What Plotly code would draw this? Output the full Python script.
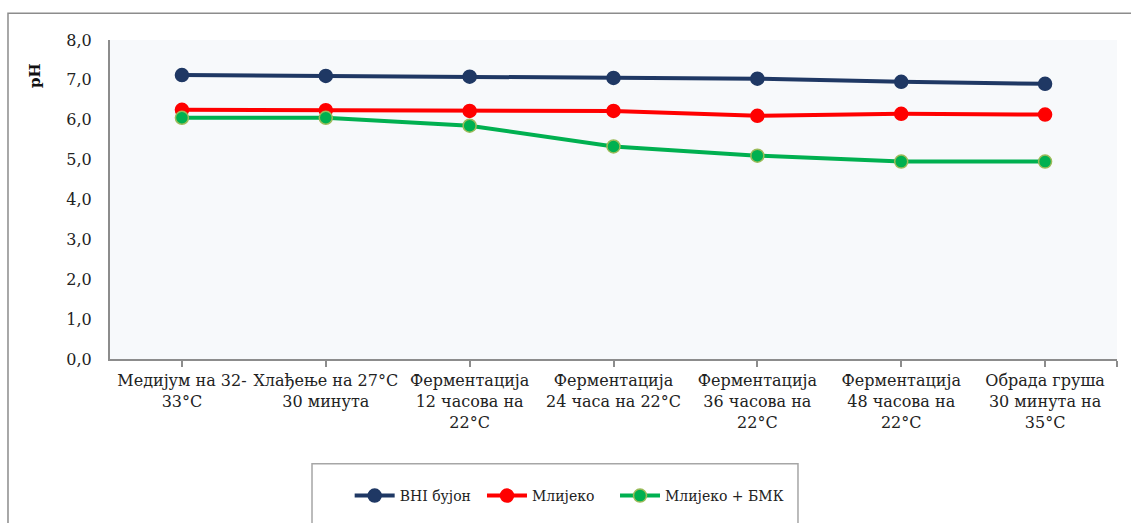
import plotly.graph_objects as go

# x categories (production stages)
stages = [
    "Медијум на 32-<br>33°C",
    "Хлађење на 27°C<br>30 минута",
    "Ферментација<br>12 часова на<br>22°C",
    "Ферментација<br>24 часа на 22°C",
    "Ферментација<br>36 часова на<br>22°C",
    "Ферментација<br>48 часова на<br>22°C",
    "Обрада груша<br>30 минута на<br>35°C",
]

ph_bhi = [7.12, 7.10, 7.08, 7.05, 7.03, 6.95, 6.90]
ph_milk = [6.25, 6.24, 6.22, 6.22, 6.10, 6.15, 6.13]
ph_milk_lab = [6.05, 6.05, 5.85, 5.33, 5.10, 4.95, 4.95]

y_ticks = [0, 1, 2, 3, 4, 5, 6, 7, 8]

FONT = "DejaVu Serif"

fig = go.Figure()

# one legend per series so each entry sits where the original has it
series = [
    ("BHI бујон", ph_bhi, "#1F3864", "#1F3864", "legend", 0.238),
    ("Млијеко", ph_milk, "#FF0000", "#FF0000", "legend2", 0.3694),
    ("Млијеко + БМК", ph_milk_lab, "#00B050", "#9BBB59", "legend3", 0.5015),
]
legends = {}
for name, vals, col, edge, leg, lx in series:
    fig.add_trace(go.Scatter(
        x=stages, y=vals, name=name, mode="lines+markers",
        line=dict(color=col, width=4),
        marker=dict(color=col, size=13, line=dict(color=edge, width=1.5)),
        legend=leg,
    ))
    legends[leg] = dict(
        orientation="h", x=lx, xanchor="left", y=-0.425, yanchor="middle",
        bgcolor="rgba(0,0,0,0)", borderwidth=0,
        font=dict(family=FONT, size=14, color="#222222"),
        itemwidth=40,
    )

fig.update_layout(
    width=1131, height=523,
    margin=dict(l=110, r=14, t=40, b=163),
    paper_bgcolor="white",
    plot_bgcolor="#F7F9FB",
    font=dict(family=FONT, size=16, color="#222222"),
    separators=",.",
    showlegend=True,
    **legends,
)

fig.update_xaxes(
    type="category",
    tickvals=[0, 1, 2, 3, 4, 5, 6, 6.5],
    ticktext=stages + [""],
    range=[-0.5, 6.5],
    showline=True, linecolor="#8C8C8C", linewidth=2,
    ticks="outside", ticklen=6, tickcolor="#8C8C8C", tickwidth=2,
    showgrid=False, zeroline=False,
    tickangle=0,
    tickfont=dict(family=FONT, size=16, color="#222222"),
)
fig.update_yaxes(
    range=[0, 8], tickvals=y_ticks, tickformat=".1f",
    showline=True, linecolor="#8C8C8C", linewidth=2,
    ticks="", showgrid=False, zeroline=False,
    ticklabelstandoff=13,
    tickfont=dict(family=FONT, size=16, color="#222222"),
)

# axis title "pH"
fig.add_annotation(
    text="<b>pH</b>", xref="paper", yref="paper",
    x=-0.0745, y=0.89, xanchor="center", yanchor="middle",
    showarrow=False, textangle=-90,
    font=dict(family=FONT, size=15, color="#111111"),
)

# outer chart frame (cropped at right and bottom)
fig.add_shape(
    type="rect", xref="paper", yref="paper",
    x0=-0.1013, x1=1.2, y0=-0.7, y1=1.084,
    line=dict(color="#8C8C8C", width=1.5), fillcolor="rgba(0,0,0,0)",
    layer="below",
)
# legend frame
fig.add_shape(
    type="rect", xref="paper", yref="paper",
    x0=0.2006, x1=0.6832, y0=-0.7, y1=-0.328,
    line=dict(color="#A6A6A6", width=1.5), fillcolor="rgba(0,0,0,0)",
    layer="below",
)

fig.write_html("out.html", config={"displayModeBar": False},
               post_script="document.body.style.margin='0';")
